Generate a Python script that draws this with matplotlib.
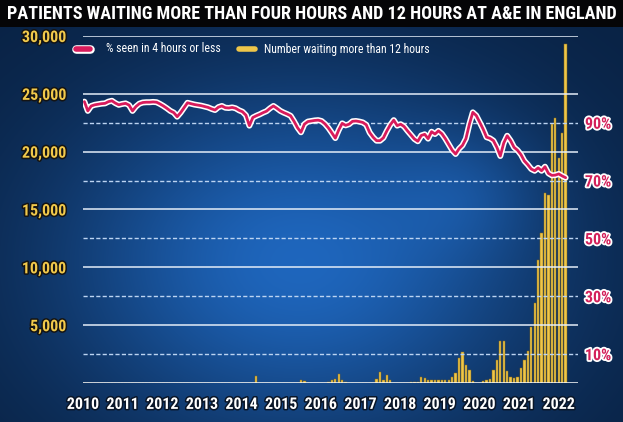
import numpy as np
import pandas as pd
import matplotlib
matplotlib.use("Agg")
import matplotlib.pyplot as plt
import matplotlib.patheffects as pe
from matplotlib import font_manager as fm
from matplotlib.lines import Line2D

# ---------------- data (monthly, Nov 2010 - Jul 2022) ----------------
first_month = "2010-11-01"

pct_seen_4h = [
    97.3, 94.1,                                                            # 2010 Nov-Dec
    95.8, 96.2, 96.4, 96.6, 96.7, 97.3, 97.6, 96.8, 96.2, 96.5, 96.7, 96.1,  # 2011
    94.1, 95.6, 96.6, 97.0, 97.1, 97.1, 97.2, 97.1, 96.5, 95.8, 95.0, 94.1,  # 2012
    93.5, 92.1, 93.5, 95.2, 96.9, 96.6, 96.3, 96.1, 95.9, 95.6, 95.3, 94.8,  # 2013
    94.4, 95.4, 95.8, 95.2, 95.1, 95.3, 95.0, 94.3, 93.8, 92.6, 89.0, 91.8,  # 2014
    92.4, 92.9, 93.5, 94.0, 95.0, 95.8, 95.0, 94.1, 93.5, 93.0, 92.4, 90.5,  # 2015
    88.3, 86.7, 89.5, 90.4, 90.6, 90.8, 90.9, 90.6, 89.6, 88.2, 86.5, 84.7,  # 2016
    87.5, 89.8, 89.1, 89.5, 90.5, 90.6, 90.4, 90.1, 89.3, 86.6, 85.0, 83.8,  # 2017
    83.8, 84.8, 87.2, 89.3, 90.9, 89.0, 89.5, 88.7, 87.2, 85.8, 84.4, 83.6,  # 2018
    85.6, 86.0, 84.5, 86.9, 86.1, 87.2, 86.2, 84.5, 82.5, 80.5, 79.2, 81.0,  # 2019
    82.2, 84.5, 89.5, 93.6, 92.5, 90.2, 87.8, 85.0, 84.6, 83.8, 81.5, 78.5,  # 2020
    83.0, 85.5, 83.8, 81.5, 80.5, 79.0, 76.8, 75.5, 74.0, 73.4, 74.4, 73.4,  # 2021
    74.8, 72.5, 71.8, 71.9, 72.3, 71.6, 71.0,                                # 2022 Jan-Jul
]

waiting_12h = [
    0, 0,                                                                  # 2010 Nov-Dec
    0, 0, 0, 0, 0, 0, 0, 0, 0, 0, 0, 0,                                    # 2011
    0, 0, 0, 0, 0, 0, 0, 0, 0, 0, 0, 0,                                    # 2012
    0, 0, 0, 0, 0, 0, 0, 0, 0, 0, 0, 0,                                    # 2013
    0, 0, 0, 0, 0, 0, 0, 0, 0, 0, 0, 0,                                    # 2014
    580, 0, 0, 0, 0, 0, 0, 0, 0, 0, 0, 0,                                  # 2015
    0, 290, 145, 0, 0, 0, 0, 0, 0, 90, 230, 370,                           # 2016
    800, 290, 115, 0, 0, 0, 0, 0, 0, 0, 0, 370,                            # 2017
    950, 290, 660, 290, 0, 0, 0, 0, 0, 100, 100, 115,                      # 2018
    520, 400, 290, 280, 290, 280, 290, 300, 290, 500, 880, 2150,           # 2019
    2670, 1550, 1090, 140, 0, 0, 140, 290, 340, 1090, 2000, 3650,          # 2020
    3650, 1000, 520, 400, 520, 1300, 2000, 2730, 4830, 6900, 10600, 12950, # 2021
    16450, 16250, 22400, 22950, 19450, 21650, 29300,                       # 2022 Jan-Jul
]

year_labels = [str(y) for y in range(2010, 2023)]
left_ticks = [5000, 10000, 15000, 20000, 25000, 30000]
right_ticks = [10, 30, 50, 70, 90]

title = "PATIENTS WAITING MORE THAN FOUR HOURS AND 12 HOURS AT A&E IN ENGLAND"
legend_line = "% seen in 4 hours or less"
legend_bars = "Number waiting more than 12 hours"

# ---------------- helpers ----------------
def pick(*names):
    for n in names:
        try:
            fm.findfont(fm.FontProperties(family=n), fallback_to_default=False)
            return n
        except Exception:
            pass
    return "DejaVu Sans"

NARROW = pick("Liberation Sans Narrow", "Roboto Condensed", "DejaVu Sans Condensed", "Roboto")

W, H = 623, 422
fig = plt.figure(figsize=(W / 100, H / 100), dpi=100)

# background (photo-like blue gradient)
yy, xx = np.mgrid[0:H, 0:W]
xn, yn = xx / W, yy / H
dark = np.array([0.035, 0.13, 0.26])
bright = np.array([0.12, 0.40, 0.74])
b = np.exp(-(((xn - 0.48) / 0.38) ** 2 + ((yn - 0.62) / 0.42) ** 2))
b += 0.25 * np.exp(-(((xn - 0.75) / 0.12) ** 2 + ((yn - 0.45) / 0.15) ** 2))
b = np.clip(b, 0, 1)
img = dark + (bright - dark) * b[..., None]
img[yy < 27] = np.array([0.02, 0.02, 0.03])
bg = fig.add_axes([0, 0, 1, 1], zorder=-10)
bg.imshow(img, aspect="auto", extent=[0, 1, 0, 1], origin="upper")
bg.axis("off")

def fx(px):
    return px / W

def fy(py):
    return 1 - py / H

ax = fig.add_axes([fx(83), fy(383), (578 - 83) / W, (383 - 36) / H])
ax.set_facecolor("none")
ax2 = ax.twinx()
ax2.patch.set_visible(False)

months = pd.date_range(first_month, periods=len(pct_seen_4h), freq="MS")
t = months.year + (months.month - 1) / 12.0

ax.set_xlim(2010.81, 2022.80)
ax.set_ylim(0, 30000)
ax2.set_ylim(0, 120)

# bars
ax.bar(t, waiting_12h, width=0.056, color="#EEC64A", edgecolor="#8B6914",
       linewidth=0.35, zorder=2)

# grid
for v in left_ticks:
    ax.axhline(v, color="#e4edf8", lw=1.1, zorder=3)
ax.axhline(0, color="white", lw=1.8, zorder=4)
for v in right_ticks:
    ax2.axhline(v, color="#bcd4f2", lw=1.0, linestyle=(0, (3, 1.6)), zorder=1)

# line
ax2.plot(t, pct_seen_4h, color="#D81B5B", lw=2.0, solid_joinstyle="round",
         solid_capstyle="round", zorder=5,
         path_effects=[pe.Stroke(linewidth=4.3, foreground="white"), pe.Normal()])

for s in list(ax.spines.values()) + list(ax2.spines.values()):
    s.set_visible(False)

# ticks
ax.set_yticks(left_ticks)
ax.set_yticklabels([f"{v:,}" for v in left_ticks])
ax.tick_params(axis="y", length=0, pad=12)
for lab in ax.get_yticklabels():
    lab.set_fontfamily(NARROW)
    lab.set_fontweight("bold")
    lab.set_fontsize(11.5)
    lab.set_color("#F1C94B")
    lab.set_path_effects([pe.Stroke(linewidth=2.2, foreground="#141414"), pe.Normal()])

ax2.set_yticks(right_ticks)
ax2.set_yticklabels([f"{v}%" for v in right_ticks])
ax2.tick_params(axis="y", length=0, pad=5)
for lab in ax2.get_yticklabels():
    lab.set_fontfamily(NARROW)
    lab.set_fontweight("bold")
    lab.set_fontsize(11.5)
    lab.set_color("#D3205A")
    lab.set_path_effects([pe.Stroke(linewidth=2.6, foreground="white"), pe.Normal()])

ax.set_xticks(np.linspace(2010.80, 2022.33, len(year_labels)))
ax.set_xticklabels(year_labels)
ax.tick_params(axis="x", length=0, pad=10)
ax2.tick_params(axis="x", length=0)
for lab in ax.get_xticklabels():
    lab.set_fontfamily(NARROW)
    lab.set_fontweight("bold")
    lab.set_fontsize(11.5)
    lab.set_color("white")
    lab.set_path_effects([pe.Stroke(linewidth=2.2, foreground="#0a1628"), pe.Normal()])

# title
ttl = fig.text(0.5, fy(14), title, ha="center", va="center", color="white",
               fontfamily=NARROW, fontweight="bold", fontsize=12)

# legend
fig.add_artist(Line2D([fx(76), fx(90)], [fy(48.5), fy(48.5)], transform=fig.transFigure,
                      lw=4, color="#D81B5B", solid_capstyle="round",
                      path_effects=[pe.Stroke(linewidth=6.2, foreground="white", capstyle="round"),
                                    pe.Normal()]))
fig.add_artist(Line2D([fx(239), fx(255)], [fy(48.5), fy(48.5)], transform=fig.transFigure,
                      lw=4, color="#EEC64A", solid_capstyle="round"))
t1 = fig.text(fx(106), fy(49), legend_line, ha="left", va="center", color="white",
              fontfamily=NARROW, fontsize=10)
t2 = fig.text(fx(264), fy(49), legend_bars, ha="left", va="center", color="white",
              fontfamily=NARROW, fontsize=10)

# fit text widths to reference
fig.canvas.draw()
r = fig.canvas.get_renderer()
for art, target in [(ttl, 610), (t1, 114), (t2, 166)]:
    w = art.get_window_extent(r).width
    art.set_fontsize(art.get_fontsize() * target / w)

fig.savefig("out.png", dpi=100)
